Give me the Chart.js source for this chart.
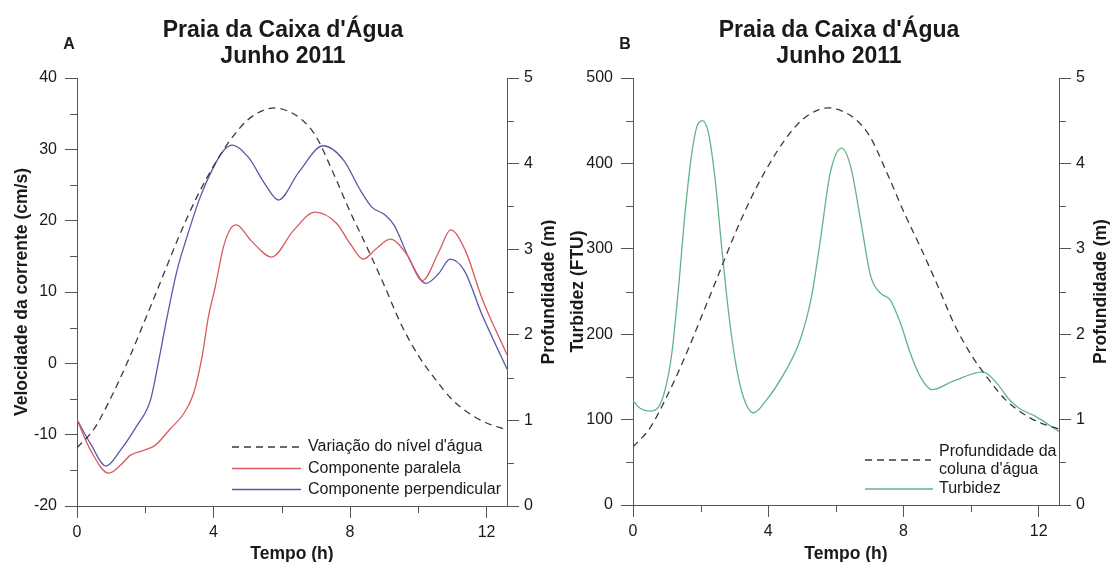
<!DOCTYPE html>
<html>
<head>
<meta charset="utf-8">
<script src="https://cdn.jsdelivr.net/npm/chart.js@4.4.1/dist/chart.umd.min.js"></script>
<style>
  html, body { margin: 0; padding: 0; background: #fff; }
  #wrap { position: relative; width: 1116px; height: 562px; overflow: hidden; }
  #cA { position: absolute; left: 0; top: 0; }
  #cB { position: absolute; left: 556px; top: 0; }
</style>
</head>
<body>
<div id="wrap">
  <canvas id="cA" width="556" height="562"></canvas>
  <canvas id="cB" width="560" height="562"></canvas>
</div>
<script>
// Water level (m) over the tidal cycle, used by both panels
const tempoNivel = [0, 0.5, 1, 1.5, 2, 2.5, 3, 3.5, 4, 4.5, 5, 5.5, 5.8, 6.2, 6.6, 7, 7.5, 8, 8.5, 9, 9.5, 10, 10.5, 11, 11.5, 12, 12.6];
const nivel = [0.68, 0.90, 1.27, 1.70, 2.18, 2.67, 3.16, 3.60, 3.97, 4.28, 4.51, 4.63, 4.65, 4.61, 4.51, 4.32, 3.90, 3.44, 3.02, 2.58, 2.12, 1.76, 1.48, 1.24, 1.08, 0.97, 0.89];

// Current velocity, component parallel to the shore (cm/s)
const tempoParalela = [0, 0.4, 0.93, 1.27, 1.56, 1.95, 2.29, 2.73, 3.12, 3.41, 3.66, 3.85, 4.05, 4.29, 4.49, 4.67, 5.1, 5.71, 6.34, 6.98, 7.61, 8.0, 8.39, 8.75, 9.18, 9.66, 10.12, 10.6, 10.95, 11.38, 11.86, 12.6];
const paralela = [-7.9, -12.2, -15.4, -14.3, -12.9, -12.2, -11.5, -9.2, -7.1, -4.3, 0.8, 6.5, 10.7, 16.3, 18.8, 19.4, 17.2, 14.9, 18.6, 21.2, 19.6, 16.8, 14.6, 16.0, 17.4, 15.3, 11.6, 15.6, 18.7, 15.8, 9.2, 1.2];

// Current velocity, component perpendicular to the shore (cm/s)
const tempoPerpendicular = [0, 0.4, 0.85, 1.27, 1.76, 2.15, 2.4, 2.64, 2.93, 3.22, 3.61, 4.0, 4.29, 4.55, 5.02, 5.5, 5.9, 6.5, 7.22, 7.81, 8.3, 8.64, 9.03, 9.3, 9.76, 10.22, 10.6, 10.93, 11.35, 11.86, 12.6];
const perpendicular = [-7.9, -11.3, -14.4, -12.2, -8.7, -5.2, 0.5, 6.5, 13.0, 17.7, 23.3, 27.5, 29.8, 30.6, 28.9, 25.2, 22.9, 26.8, 30.5, 28.5, 24.3, 21.9, 20.8, 19.3, 14.4, 11.2, 12.6, 14.6, 13.0, 6.9, -0.8];

// Turbidity (FTU)
const tempoTurbidez = [0, 0.22, 0.5, 0.76, 0.95, 1.15, 1.35, 1.54, 1.74, 1.89, 2.05, 2.23, 2.43, 2.62, 2.82, 3.02, 3.26, 3.56, 3.95, 4.44, 4.94, 5.28, 5.53, 5.84, 6.17, 6.44, 6.73, 7.03, 7.32, 7.61, 7.91, 8.2, 8.5, 8.84, 9.47, 10.35, 10.75, 11.14, 11.43, 11.92, 12.6];
const turbidez = [122, 113, 110, 115, 135, 178, 256, 342, 412, 443, 450, 436, 381, 303, 228, 170, 127, 108, 123, 152, 193, 244, 307, 390, 418, 396, 334, 268, 248, 240, 213, 178, 150, 135, 145, 156, 143, 123, 113, 103.5, 86];

// Axis ticks
const tempoTicksMenores = [2, 6, 10];
const velTicksMenores = [-15, -5, 5, 15, 25, 35];
const profTicksMenores = [0.5, 1.5, 2.5, 3.5, 4.5];
const turbTicksMenores = [50, 150, 250, 350, 450];

const titulo = ["Praia da Caixa d'Água", 'Junho 2011'];
const FONT = '"Liberation Sans", Arial, Helvetica, sans-serif';
const AXIS = '#555';
const TXT = '#1a1a1a';
const RED = '#d95a5e';
const BLUE = '#5858a8';
const GREEN = '#62b486';
const DASH = '#3a3a3a';

function pontos(xs, ys) { return xs.map((x, i) => ({ x: x, y: ys[i] })); }

function linha(label, xs, ys, color, yAxisID, dash) {
  return {
    label: label,
    data: pontos(xs, ys),
    borderColor: color,
    backgroundColor: color,
    borderWidth: 1.3,
    borderDash: dash || [],
    pointRadius: 0,
    cubicInterpolationMode: 'monotone',
    fill: false,
    yAxisID: yAxisID
  };
}

function eixo(pos, min, max, step, width) {
  return {
    type: 'linear',
    position: pos,
    min: min, max: max,
    grid: { display: true, drawOnChartArea: false, drawTicks: true, tickLength: 12, tickColor: AXIS, tickWidth: 1 },
    border: { display: true, color: AXIS, width: 1 },
    ticks: { stepSize: step, includeBounds: false, color: TXT, font: { family: FONT, size: 16 }, padding: pos === 'left' ? 8 : 5 },
    afterFit(scale) {
      if (pos === 'bottom') scale.height = width; else scale.width = width;
    }
  };
}

function decoracao(cfg) {
  return {
    id: 'decoracao',
    afterDraw(chart) {
      const ctx = chart.ctx;
      const a = chart.chartArea;
      const meioY = (a.top + a.bottom) / 2;
      ctx.save();
      ctx.fillStyle = TXT;
      ctx.textAlign = 'center';
      ctx.textBaseline = 'alphabetic';
      ctx.font = 'bold 23px ' + FONT;
      ctx.fillText(titulo[0], 283, 37);
      ctx.fillText(titulo[1], 283, 63);
      ctx.font = 'bold 16px ' + FONT;
      ctx.fillText(cfg.letra, 69, 49);

      // axis titles
      ctx.font = 'bold 17.5px ' + FONT;
      ctx.textBaseline = 'middle';
      ctx.fillText('Tempo (h)', (a.left + a.right) / 2, 554);
      [[cfg.tituloEsq, 22], [cfg.tituloDir, a.right + 42]].forEach(([t, x]) => {
        ctx.save();
        ctx.translate(x, meioY);
        ctx.rotate(-Math.PI / 2);
        ctx.fillText(t, 0, 0);
        ctx.restore();
      });

      // minor ticks
      ctx.strokeStyle = AXIS;
      ctx.lineWidth = 1;
      const sx = chart.scales.x, sl = chart.scales.yEsq, sr = chart.scales.yDir;
      ctx.beginPath();
      tempoTicksMenores.forEach(v => {
        const p = Math.round(sx.getPixelForValue(v)) + 0.5;
        ctx.moveTo(p, a.bottom); ctx.lineTo(p, a.bottom + 7);
      });
      cfg.menoresEsq.forEach(v => {
        const p = Math.round(sl.getPixelForValue(v)) + 0.5;
        ctx.moveTo(a.left - 7, p); ctx.lineTo(a.left, p);
      });
      profTicksMenores.forEach(v => {
        const p = Math.round(sr.getPixelForValue(v)) + 0.5;
        ctx.moveTo(a.right, p); ctx.lineTo(a.right + 7, p);
      });
      ctx.stroke();

      // legend
      ctx.font = '16px ' + FONT;
      ctx.textAlign = 'left';
      cfg.legenda.forEach(item => {
        ctx.save();
        ctx.strokeStyle = item.cor;
        ctx.lineWidth = 1.3;
        ctx.setLineDash(item.dash || []);
        ctx.beginPath();
        ctx.moveTo(item.x0, item.y); ctx.lineTo(item.x1, item.y);
        ctx.stroke();
        ctx.restore();
        item.textos.forEach(([t, y]) => ctx.fillText(t, item.tx, y));
      });
      ctx.restore();
    }
  };
}

const DASHP = [7, 5];

// Panel A: current components and water level
new Chart(document.getElementById('cA'), {
  type: 'line',
  data: {
    datasets: [
      linha("Variação do nível d'água", tempoNivel, nivel, DASH, 'yDir', DASHP),
      linha('Componente paralela', tempoParalela, paralela, RED, 'yEsq'),
      linha('Componente perpendicular', tempoPerpendicular, perpendicular, BLUE, 'yEsq')
    ]
  },
  options: {
    responsive: false,
    animation: false,
    layout: { padding: { top: 78, left: 0, right: 0, bottom: 0 } },
    plugins: { legend: { display: false }, tooltip: { enabled: false }, title: { display: false } },
    scales: {
      x: eixo('bottom', 0, 12.6, 4, 56),
      yEsq: eixo('left', -20, 40, 10, 77),
      yDir: eixo('right', 0, 5, 1, 49)
    }
  },
  plugins: [decoracao({
    letra: 'A',
    tituloEsq: 'Velocidade da corrente (cm/s)',
    tituloDir: 'Profundidade (m)',
    menoresEsq: velTicksMenores,
    legenda: [
      { cor: DASH, dash: DASHP, x0: 232, x1: 301, y: 447, tx: 308, textos: [["Variação do nível d'água", 447]] },
      { cor: RED, x0: 232, x1: 301, y: 468.5, tx: 308, textos: [['Componente paralela', 468.5]] },
      { cor: BLUE, x0: 232, x1: 301, y: 489.5, tx: 308, textos: [['Componente perpendicular', 489.5]] }
    ]
  })]
});

// Panel B: turbidity and water column depth
new Chart(document.getElementById('cB'), {
  type: 'line',
  data: {
    datasets: [
      linha("Profundidade da coluna d'água", tempoNivel, nivel, DASH, 'yDir', DASHP),
      linha('Turbidez', tempoTurbidez, turbidez, GREEN, 'yEsq')
    ]
  },
  options: {
    responsive: false,
    animation: false,
    layout: { padding: { top: 78, left: 0, right: 0, bottom: 0 } },
    plugins: { legend: { display: false }, tooltip: { enabled: false }, title: { display: false } },
    scales: {
      x: eixo('bottom', 0, 12.6, 4, 57),
      yEsq: eixo('left', 0, 500, 100, 77),
      yDir: eixo('right', 0, 5, 1, 57)
    }
  },
  plugins: [decoracao({
    letra: 'B',
    tituloEsq: 'Turbidez (FTU)',
    tituloDir: 'Profundidade (m)',
    menoresEsq: turbTicksMenores,
    legenda: [
      { cor: DASH, dash: DASHP, x0: 309, x1: 375, y: 460, tx: 383, textos: [['Profundidade da', 452], ["coluna d'água", 470]] },
      { cor: GREEN, x0: 309, x1: 377, y: 489, tx: 383, textos: [['Turbidez', 489]] }
    ]
  })]
});
</script>
</body>
</html>
